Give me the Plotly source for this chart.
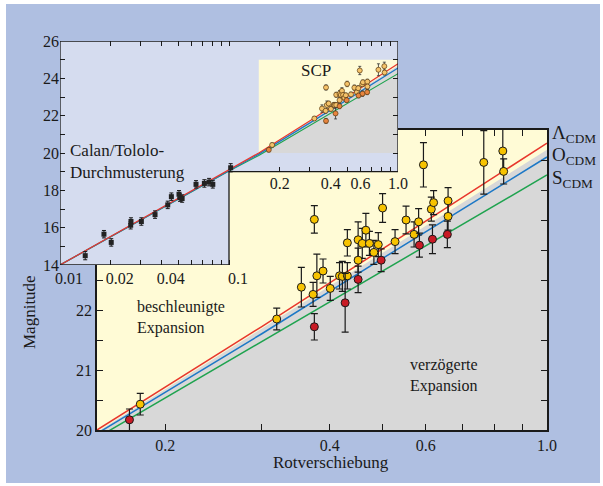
import math
import plotly.graph_objects as go

W, H = 603, 486

# ---------------- data ----------------
# model curves (redshift, magnitude)
z_model = [0.01, 0.1, 0.15, 0.3, 0.5, 1.0]
m_lambda = [14.0, 19.08, 20.0, 21.72, 23.02, 24.78]
m_open = [14.0, 19.06, 19.94, 21.60, 22.86, 24.55]
m_standard = [14.0, 19.04, 19.87, 21.47, 22.65, 24.25]
# boundary between accelerating / decelerating expansion
z_boundary = [0.152, 1.0]
m_boundary = [20.0, 24.67]

# Supernova Cosmology Project (yellow = fit ok, red = other)
scp_z = [0.180, 0.320, 0.355, 0.373, 0.375, 0.379, 0.389, 0.401, 0.417, 0.422,
         0.431, 0.431, 0.451, 0.451, 0.459, 0.466, 0.473, 0.482, 0.491, 0.500,
         0.527, 0.552, 0.571, 0.582, 0.594, 0.614, 0.620, 0.659, 0.659, 0.766,
         0.830, 0.833]
scp_m = [20.43, 21.85, 22.38, 22.26, 23.51, 22.57, 22.65, 22.36, 22.57, 22.56,
         22.57, 23.12, 23.17, 22.83, 23.11, 23.33, 23.11, 22.96, 23.09, 23.70,
         23.14, 23.50, 23.26, 23.47, 24.42, 23.68, 23.79, 23.82, 23.56, 24.46,
         24.65, 24.31]
scp_err = [0.18, 0.18, 0.33, 0.20, 0.23, 0.36, 0.20, 0.20, 0.22, 0.25,
           0.22, 0.22, 0.30, 0.20, 0.25, 0.28, 0.20, 0.20, 0.20, 0.24,
           0.20, 0.23, 0.21, 0.22, 0.37, 0.20, 0.20, 0.22, 0.23, 0.53,
           0.36, 0.21]
scp_red_z = [0.172, 0.375, 0.427, 0.451, 0.497, 0.584, 0.617, 0.657]
scp_red_m = [20.17, 21.72, 22.12, 22.51, 22.83, 23.08, 23.18, 23.26]
scp_red_err = [0.18, 0.22, 0.49, 0.22, 0.19, 0.20, 0.24, 0.22]

# Calan/Tololo survey
ct_z = [0.0141, 0.0182, 0.0201, 0.0262, 0.0263, 0.0303, 0.0365, 0.0434, 0.0456,
        0.0506, 0.0513, 0.0528, 0.0638, 0.0715, 0.0762, 0.0802, 0.1023]
ct_m = [14.50, 15.65, 15.21, 16.13, 16.33, 16.33, 16.70, 17.22, 17.66,
        17.79, 17.61, 17.56, 18.32, 18.37, 18.44, 18.32, 19.21]
ct_err = [0.22, 0.2, 0.2, 0.2, 0.2, 0.2, 0.2, 0.2, 0.2,
          0.2, 0.2, 0.2, 0.2, 0.2, 0.2, 0.2, 0.22]

# ticks
main_x_ticks = [0.2, 0.3, 0.4, 0.5, 0.6, 0.7, 0.8, 0.9, 1.0]
main_x_text = ["0.2", "", "0.4", "", "0.6", "", "", "", "1.0"]
main_y_ticks = [20, 20.5, 21, 21.5, 22, 22.5, 23, 23.5, 24, 24.5]
main_y_text = ["20", "", "21", "", "22", "", "", "", "", ""]
inset_x_low = [0.01, 0.02, 0.03, 0.04, 0.05, 0.06, 0.07, 0.08, 0.09, 0.1]
inset_x_low_text = ["0.01", "0.02", "", "0.04", "", "", "", "", "", "0.1"]
inset_x_high = [0.2, 0.3, 0.4, 0.5, 0.6, 0.7, 0.8, 0.9, 1.0]
inset_x_high_text = ["0.2", "", "0.4", "", "0.6", "", "", "", "1.0"]
inset_y_ticks = list(range(14, 27))
inset_y_text = [str(v) if v % 2 == 0 else "" for v in inset_y_ticks]

# ---------------- style ----------------
FONT = "Liberation Serif"
INK = "#1a1a1a"
BLUE_BG = "#afbfe1"
LAVENDER = "#d5dcef"
YELLOW = "#fffbd6"
GRAY = "#d8d8d8"
C_L, C_O, C_S = "#e8372c", "#1d78c6", "#1fa34f"
GOLD, RED = "#f7c300", "#c91b25"

def fx(px):
    return px / W

def fy(py):
    return 1 - py / H

fig = go.Figure()

# ---- main plot ----
for m, col in [(m_standard, C_S), (m_open, C_O), (m_lambda, C_L)]:
    fig.add_trace(go.Scatter(x=z_model, y=m, mode="lines", line=dict(color=col, width=1.5),
                             xaxis="x", yaxis="y", hoverinfo="skip"))
fig.add_trace(go.Scatter(x=scp_z, y=scp_m, mode="markers", xaxis="x", yaxis="y",
                         error_y=dict(type="data", array=scp_err, color=INK, thickness=1.2, width=3.5),
                         marker=dict(size=8, color=GOLD, line=dict(color=INK, width=1))))
fig.add_trace(go.Scatter(x=scp_red_z, y=scp_red_m, mode="markers", xaxis="x", yaxis="y",
                         error_y=dict(type="data", array=scp_red_err, color=INK, thickness=1.2, width=3.5),
                         marker=dict(size=8, color=RED, line=dict(color=INK, width=1))))

# ---- inset ----
for m, col in [(m_standard, C_S), (m_open, C_O), (m_lambda, C_L)]:
    fig.add_trace(go.Scatter(x=z_model, y=m, mode="lines", line=dict(color=col, width=1.2),
                             xaxis="x2", yaxis="y2", hoverinfo="skip"))
fig.add_trace(go.Scatter(x=ct_z, y=ct_m, mode="markers", xaxis="x2", yaxis="y2",
                         error_y=dict(type="data", array=ct_err, color=INK, thickness=1, width=2),
                         marker=dict(size=5, color="#222222", symbol="square")))
fig.add_trace(go.Scatter(x=scp_z, y=scp_m, mode="markers", xaxis="x2", yaxis="y2",
                         error_y=dict(type="data", array=[e * 0.6 for e in scp_err], color="#333333", thickness=0.8, width=1.5),
                         marker=dict(size=5, color="#f5c36a", line=dict(color="#5a3a10", width=0.7))))
fig.add_trace(go.Scatter(x=scp_red_z, y=scp_red_m, mode="markers", xaxis="x2", yaxis="y2",
                         error_y=dict(type="data", array=[e * 0.6 for e in scp_red_err], color="#333333", thickness=0.8, width=1.5),
                         marker=dict(size=5, color="#e8843e", line=dict(color="#5a3a10", width=0.7))))
# dummy traces so overlay axes are drawn
for xa, ya in [("x3", "y2"), ("x4", "y2"), ("x2", "y3")]:
    fig.add_trace(go.Scatter(x=[None], y=[None], xaxis=xa, yaxis=ya, hoverinfo="skip", showlegend=False))

# ---- shapes ----
def gray_path(xr, yr):
    pts = [(z_boundary[0], 20.0)] + list(zip(z_boundary, m_boundary)) + [(1.0, 20.0)]
    d = "M " + " L ".join(f"{a},{b}" for a, b in pts) + " Z"
    return dict(type="path", path=d, xref=xr, yref=yr, fillcolor=GRAY, line=dict(width=0), layer="below")

inset_outline = "M 0.01,14 L 0.1,14 L 0.1,19 L 1,19 L 1,26 L 0.01,26 Z"
shapes = [
    dict(type="rect", xref="paper", yref="paper", x0=fx(6), x1=fx(600), y0=fy(483), y1=fy(4),
         fillcolor=BLUE_BG, line=dict(width=0), layer="below"),
    dict(type="rect", xref="x", yref="y", x0=0.15, x1=1.0, y0=20, y1=25,
         fillcolor=YELLOW, line=dict(width=0), layer="below"),
    gray_path("x", "y"),
    dict(type="path", path=inset_outline, xref="x2", yref="y2", fillcolor=LAVENDER,
         line=dict(width=0), layer="below"),
    dict(type="rect", xref="x2", yref="y2", x0=0.15, x1=1.0, y0=20, y1=25,
         fillcolor=YELLOW, line=dict(width=0), layer="below"),
    gray_path("x2", "y2"),
    dict(type="path", path=inset_outline, xref="x2", yref="y2",
         line=dict(color=INK, width=1.3), layer="above"),
]

# ---- annotations ----
def ann(text, px, py, size=16, xanchor="left", align="left", angle=0):
    return dict(text=text, x=fx(px), y=fy(py), xref="paper", yref="paper", showarrow=False,
                xanchor=xanchor, yanchor="middle", align=align, textangle=angle,
                font=dict(family=FONT, size=size, color=INK))

annotations = [
    ann("Calan/Tololo-<br>Durchmusterung", 68, 162, size=17),
    ann("SCP", 316, 70, size=17, xanchor="center"),
    ann("beschleunigte<br>Expansion", 135, 317, size=16),
    ann("verzögerte<br>Expansion", 408, 375, size=16),
    ann("Λ<sub>CDM</sub>", 550, 134, size=19),
    ann("O<sub>CDM</sub>", 550, 156, size=19),
    ann("S<sub>CDM</sub>", 550, 179, size=19),
    ann("Magnitude", 29, 312, size=17, xanchor="center", align="center", angle=-90),
    ann("Rotverschiebung", 331, 462, size=17, xanchor="center", align="center"),
]

tickfont = dict(family=FONT, size=16, color=INK)
common = dict(showgrid=False, zeroline=False, ticks="inside", tickcolor=INK, tickwidth=1,
              tickfont=tickfont, tickmode="array", automargin=False)

fig.update_layout(
    width=W, height=H, margin=dict(l=0, r=0, t=0, b=0, pad=0, autoexpand=False),
    autosize=False,
    paper_bgcolor="white", plot_bgcolor="rgba(0,0,0,0)",
    showlegend=False, shapes=shapes, annotations=annotations,
    xaxis=dict(type="log", range=[math.log10(0.15), 0], domain=[fx(97), fx(547)], anchor="y",
               showline=True, linecolor=INK, linewidth=1.5, mirror="ticks", ticklen=6,
               tickvals=main_x_ticks, ticktext=main_x_text, **common),
    yaxis=dict(range=[20, 25], domain=[fy(430), fy(130)], anchor="x",
               showline=True, linecolor=INK, linewidth=1.5, mirror="ticks", ticklen=6,
               tickvals=main_y_ticks, ticktext=main_y_text, **common),
    xaxis2=dict(type="log", range=[-2, 0], domain=[fx(60), fx(398)], anchor="y2",
                showline=False, ticklen=5, tickvals=inset_x_low, ticktext=inset_x_low_text,
                ticklabelshift=9, ticklabelstandoff=2, **common),
    xaxis3=dict(type="log", range=[-2, 0], overlaying="x2", anchor="free", position=fy(172),
                side="bottom", showline=False, ticklen=5,
                tickvals=inset_x_high, ticktext=inset_x_high_text, **common),
    xaxis4=dict(type="log", range=[-2, 0], overlaying="x2", anchor="y2", side="top",
                showline=False, ticklen=5, showticklabels=False,
                tickvals=inset_x_low + inset_x_high, **common),
    yaxis2=dict(range=[14, 26], domain=[fy(265), fy(41)], anchor="x2", showline=False,
                ticklen=5, tickvals=inset_y_ticks, ticktext=inset_y_text, **common),
    yaxis3=dict(range=[14, 26], overlaying="y2", anchor="x2", side="right", showline=False,
                ticklen=5, showticklabels=False, tickvals=list(range(19, 27)), **common),
)

fig.write_html("out.html", config={"displayModeBar": False},
               post_script="document.body.style.margin='0px';document.body.style.padding='0px';document.body.style.overflow='hidden';")
